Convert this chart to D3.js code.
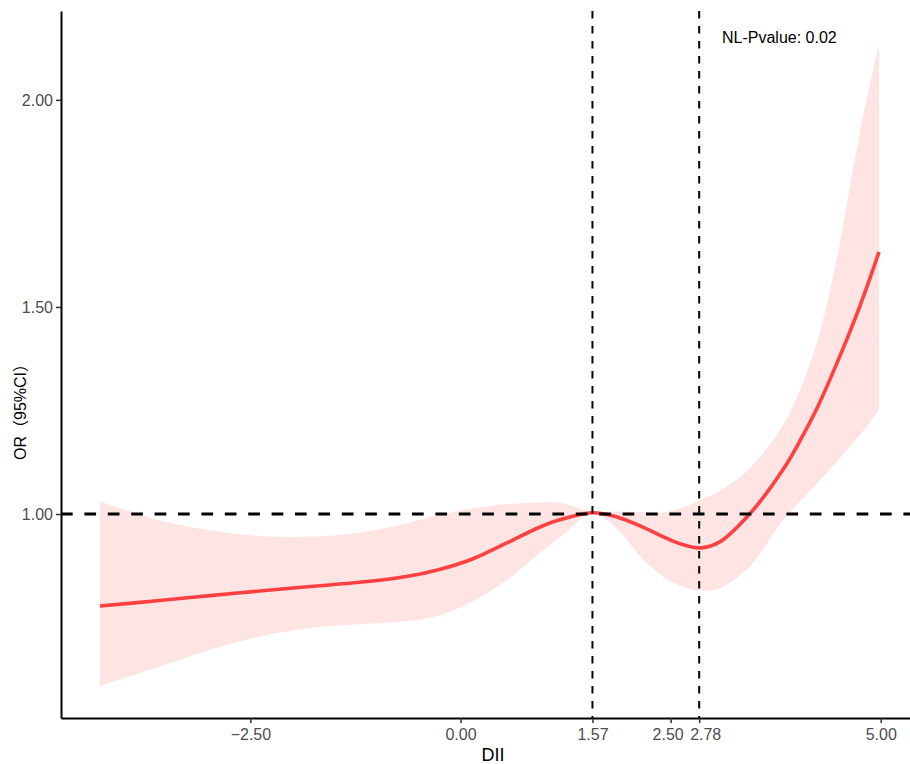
<!DOCTYPE html>
<html>
<head>
<meta charset="utf-8">
<script src="https://cdn.jsdelivr.net/npm/d3@7"></script>
<style>
  body { margin: 0; background: #fff; }
  svg text { font-family: "Liberation Sans", Arial, "Noto Sans CJK SC", sans-serif; }
</style>
</head>
<body>
<svg id="chart" width="910" height="764"></svg>
<script>
// DII grid and the fitted OR with its 95% CI
const dii = [-4.29, -3.58, -2.98, -2.39, -1.79, -1.2, -0.64, -0.25, 0.15, 0.55, 0.94, 1.18, 1.57,
  1.86, 2.13, 2.37, 2.6, 2.85, 3.08, 3.44, 3.84, 4.04, 4.25, 4.47, 4.75, 4.98];
const orValues = [0.778, 0.791, 0.803, 0.814, 0.825, 0.835, 0.849, 0.866, 0.892, 0.93, 0.968, 0.986, 1.003,
  0.993, 0.972, 0.949, 0.929, 0.918, 0.932, 1.0, 1.108, 1.177, 1.259, 1.36, 1.501, 1.633];
const upperCI = [1.03, 0.985, 0.961, 0.947, 0.945, 0.955, 0.977, 0.998, 1.014, 1.024, 1.028, 1.027, 1.005,
  1.006, 1.004, 1.003, 1.012, 1.034, 1.055, 1.11, 1.215, 1.3, 1.42, 1.61, 1.92, 2.137];
const lowerCI = [0.585, 0.631, 0.672, 0.704, 0.725, 0.734, 0.741, 0.755, 0.79, 0.84, 0.905, 0.943, 1.0,
  0.965, 0.9, 0.855, 0.828, 0.815, 0.82, 0.873, 0.986, 1.03, 1.076, 1.125, 1.19, 1.251];

// axis ticks
const xTicks = [-2.5, 0, 1.57, 2.5, 2.84, 5];
const xTickLabels = ["\u22122.50", "0.00", "1.57", "2.50", "2.78", "5.00"];
const yTicks = [1.0, 1.5, 2.0];
const yTickLabels = ["1.00", "1.50", "2.00"];

// reference lines (knots) and text
const vLines = [1.57, 2.84];
const hLine = 1;
const pText = "NL-Pvalue: 0.02";

const data = dii.map((d, i) => ({ x: d, y: orValues[i], lo: lowerCI[i], hi: upperCI[i] }));

const svg = d3.select("#chart");
const mLeft = 61, mRight = 918, mTop = 11, mBottom = 718;

// ggplot style 5% expansion
const xExt = d3.extent(dii);
const xPad = (xExt[1] - xExt[0]) * 0.05;
const x = d3.scaleLinear().domain([xExt[0] - xPad, xExt[1] + xPad]).range([mLeft, mRight]);
const yMin = d3.min(lowerCI), yMax = d3.max(upperCI);
const yPad = (yMax - yMin) * 0.05;
const y = d3.scaleLinear().domain([yMin - yPad, yMax + yPad]).range([mBottom, mTop]);

const curve = d3.curveCatmullRom.alpha(0.5);

// CI ribbon
svg.append("path")
  .datum(data)
  .attr("fill", "#ffe4e4")
  .attr("d", d3.area().curve(curve).x(d => x(d.x)).y0(d => y(d.lo)).y1(d => y(d.hi)));

// fitted line
svg.append("path")
  .datum(data)
  .attr("fill", "none")
  .attr("stroke", "#ff4040")
  .attr("stroke-width", 3.6)
  .attr("d", d3.line().curve(curve).x(d => x(d.x)).y(d => y(d.y)));

// dashed reference lines
svg.append("line")
  .attr("x1", mLeft).attr("x2", mRight)
  .attr("y1", y(hLine)).attr("y2", y(hLine))
  .attr("stroke", "#000").attr("stroke-width", 3)
  .attr("stroke-dasharray", "11.7,11.7");

svg.selectAll(".vline")
  .data(vLines)
  .join("line")
  .attr("class", "vline")
  .attr("x1", d => x(d)).attr("x2", d => x(d))
  .attr("y1", mTop).attr("y2", mBottom)
  .attr("stroke", "#000").attr("stroke-width", 2)
  .attr("stroke-dasharray", "7.5,7.5");

// axes
const xAxis = svg.append("g")
  .attr("transform", `translate(0,${mBottom})`)
  .call(d3.axisBottom(x).tickValues(xTicks).tickSize(5).tickSizeOuter(0)
    .tickFormat((d, i) => xTickLabels[i]));
const yAxis = svg.append("g")
  .attr("transform", `translate(${mLeft},0)`)
  .call(d3.axisLeft(y).tickValues(yTicks).tickSize(5).tickSizeOuter(0)
    .tickFormat((d, i) => yTickLabels[i]));

[xAxis, yAxis].forEach(g => {
  g.select(".domain").attr("stroke", "#000").attr("stroke-width", 2);
  g.selectAll(".tick line").attr("stroke", "#333").attr("stroke-width", 1.5);
  g.selectAll(".tick text").attr("fill", "#4d4d4d").style("font-size", "16px");
});
// the two close labels sit a little apart, as in the original
xAxis.selectAll(".tick text")
  .attr("dy", null).attr("y", 22)
  .attr("x", (d, i) => (i === 3 ? -3 : i === 4 ? 6 : 0));
yAxis.selectAll(".tick text").attr("x", -8).attr("dy", "0.36em");

// axis titles
svg.append("text")
  .attr("x", 493).attr("y", 761)
  .attr("text-anchor", "middle")
  .style("font-size", "18px")
  .text("DII");

svg.append("text")
  .attr("transform", "translate(26,408) rotate(-90)")
  .attr("text-anchor", "middle")
  .style("font-size", "16px")
  .text("OR（95%CI）");

svg.append("text")
  .attr("x", 722).attr("y", 43)
  .style("font-size", "16px")
  .text(pText);
</script>
</body>
</html>
